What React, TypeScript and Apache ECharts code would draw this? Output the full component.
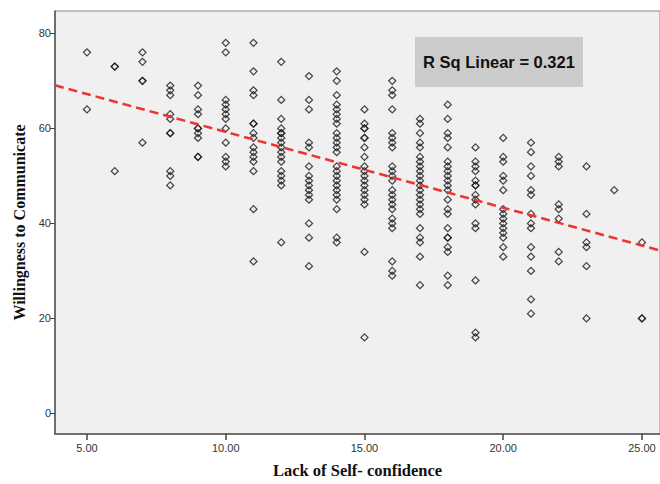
import React, { useEffect, useRef } from "react";
import * as echarts from "echarts";

// Lack of Self-confidence (x) categories present in data
const lscValues = [5, 6, 7, 8, 9, 10, 11, 12, 13, 14, 15, 16, 17, 18, 19, 20, 21, 22, 23, 24, 25];

// Willingness to Communicate values observed at each x
const wtcValues: number[][] = [
  [76, 64],
  [73, 73, 51],
  [76, 74, 70, 70, 57],
  [69, 68, 67, 63, 62, 59, 59, 51, 50, 48],
  [69, 67, 64, 63, 60, 60, 59, 58, 54, 54],
  [78, 76, 66, 65, 64, 63, 62, 60, 57, 54, 53, 52],
  [78, 72, 68, 67, 61, 61, 59, 58, 56, 55, 54, 53, 51, 43, 32],
  [74, 66, 62, 60, 59, 59, 58, 57, 56, 55, 54, 53, 51, 50, 49, 48, 36],
  [71, 66, 64, 57, 56, 52, 50, 49, 48, 47, 46, 45, 40, 37, 31],
  [72, 70, 67, 65, 64, 63, 62, 61, 59, 58, 57, 56, 55, 52, 51, 50, 49, 48, 47, 46, 45, 43, 37, 36],
  [64, 61, 60, 60, 58, 58, 56, 54, 52, 51, 50, 49, 48, 47, 46, 45, 44, 34, 16],
  [70, 68, 67, 64, 59, 58, 57, 56, 52, 51, 50, 49, 47, 46, 45, 44, 43, 41, 40, 39, 32, 30, 29],
  [62, 61, 59, 57, 56, 54, 53, 52, 51, 50, 49, 48, 47, 46, 45, 44, 43, 42, 39, 37, 36, 33, 27],
  [65, 62, 59, 58, 56, 53, 52, 51, 50, 49, 48, 47, 45, 43, 42, 39, 37, 37, 35, 34, 29, 27],
  [56, 53, 52, 51, 49, 48, 48, 46, 45, 44, 40, 39, 28, 17, 16],
  [58, 54, 53, 50, 49, 47, 43, 42, 41, 40, 39, 38, 37, 35, 33],
  [57, 55, 52, 50, 47, 46, 42, 40, 39, 35, 33, 30, 24, 21],
  [54, 53, 52, 44, 43, 41, 34, 32],
  [52, 42, 36, 35, 31, 20],
  [47],
  [36, 20, 20],
];

// Fit line
const fitIntercept = 75.2;
const fitSlope = -1.595;
const rSqLabel = "R Sq Linear = 0.321";

const xTicks = [5, 10, 15, 20, 25];
const yTicks = [0, 20, 40, 60, 80];

const X_MIN = 3.847;
const X_MAX = 25.65;
const Y_MIN = -4.34;
const Y_MAX = 84.71;

export default function App() {
  const ref = useRef<HTMLDivElement>(null);
  useEffect(() => {
    if (!ref.current) return;
    const chart = echarts.init(ref.current, undefined, { renderer: "svg" });
    const points: number[][] = [];
    lscValues.forEach((x, i) => {
      wtcValues[i].forEach((y) => points.push([x, y]));
    });
    const fitData = [
      [X_MIN, fitIntercept + fitSlope * X_MIN],
      [X_MAX, fitIntercept + fitSlope * X_MAX],
    ];
    chart.setOption({
      animation: false,
      backgroundColor: "#ffffff",
      grid: {
        left: 55,
        top: 11,
        right: 0,
        bottom: 42,
        show: true,
        backgroundColor: "#f0f0f0",
        borderColor: "#888888",
        borderWidth: 1,
      },
      xAxis: {
        type: "value",
        min: X_MIN,
        max: X_MAX,
        splitLine: { show: false },
        axisLine: { show: true, onZero: false, lineStyle: { color: "#555555", width: 1.5 } },
        axisTick: {
          show: true,
          customValues: xTicks,
          length: 6,
          lineStyle: { color: "#444444", width: 1.5 },
        },
        axisLabel: {
          customValues: xTicks,
          formatter: (v: number) => v.toFixed(2),
          color: "#333333",
          fontFamily: "Liberation Sans, Arial, sans-serif",
          fontSize: 11,
          margin: 8,
        },
        name: "Lack of Self- confidence",
        nameLocation: "middle",
        nameGap: 28,
        nameTextStyle: {
          fontFamily: "Liberation Serif, Times New Roman, serif",
          fontWeight: "bold",
          fontSize: 16.5,
          color: "#111111",
        },
      },
      yAxis: {
        type: "value",
        min: Y_MIN,
        max: Y_MAX,
        splitLine: { show: false },
        axisLine: { show: true, onZero: false, lineStyle: { color: "#555555", width: 1.5 } },
        axisTick: {
          show: true,
          customValues: yTicks,
          length: 5,
          lineStyle: { color: "#444444", width: 1 },
        },
        axisLabel: {
          customValues: yTicks,
          color: "#333333",
          fontFamily: "Liberation Sans, Arial, sans-serif",
          fontSize: 11,
          margin: 4,
        },
        name: "Willingness to Communicate",
        nameLocation: "middle",
        nameGap: 28,
        nameRotate: 90,
        nameTextStyle: {
          fontFamily: "Liberation Serif, Times New Roman, serif",
          fontWeight: "bold",
          fontSize: 16,
          color: "#111111",
        },
      },
      series: [
        {
          type: "scatter",
          data: points,
          symbol: "diamond",
          symbolSize: 7,
          itemStyle: { color: "rgba(0,0,0,0)", borderColor: "#1a1a1a", borderWidth: 1.3 },
          silent: true,
          z: 2,
        },
        {
          type: "line",
          data: fitData,
          symbol: "none",
          lineStyle: { color: "#ee3333", width: 2.5, type: [9, 5] },
          silent: true,
          z: 3,
        },
      ],
      graphic: [
        {
          type: "rect",
          shape: { x: 415, y: 37, width: 168, height: 50 },
          style: { fill: "#cccccc" },
          z: 10,
        },
        {
          type: "text",
          x: 499,
          y: 62,
          style: {
            text: rSqLabel,
            fontFamily: "Liberation Sans, Arial, sans-serif",
            fontWeight: "bold",
            fontSize: 16.5,
            fill: "#111111",
            align: "center",
            verticalAlign: "middle",
          },
          z: 11,
        },
      ],
    });
    return () => chart.dispose();
  }, []);
  return (
    <div
      ref={ref}
      style={{ position: "fixed", left: 0, top: 0, width: 660, height: 484 }}
    />
  );
}
